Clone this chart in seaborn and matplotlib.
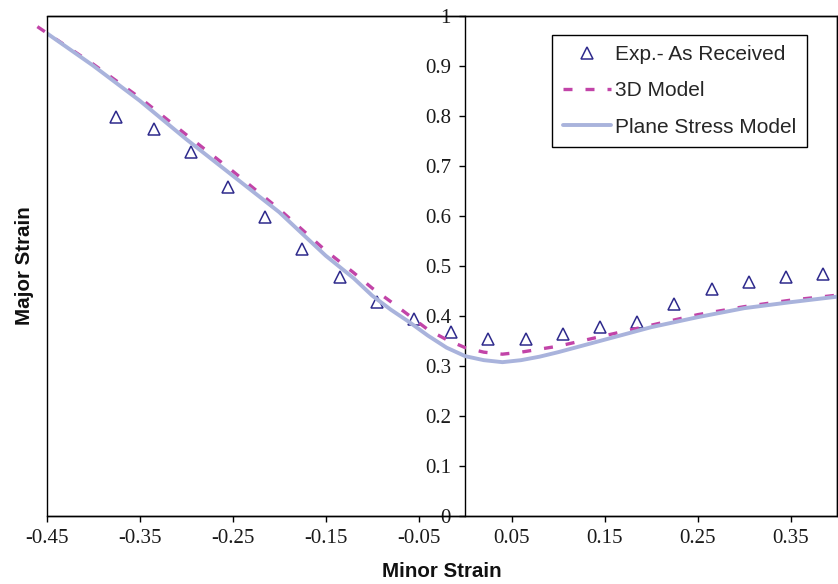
import matplotlib
matplotlib.use("Agg")
import matplotlib.pyplot as plt
from matplotlib.patches import Rectangle
import seaborn as sns
import pandas as pd

# Experimental forming-limit points (as received material)
exp_minor = [-0.375, -0.335, -0.295, -0.255, -0.215, -0.175, -0.135, -0.095, -0.055, -0.015,
             0.025, 0.065, 0.105, 0.145, 0.185, 0.225, 0.265, 0.305, 0.345, 0.385]
exp_major = [0.797, 0.773, 0.728, 0.658, 0.598, 0.533, 0.478, 0.427, 0.393, 0.367,
             0.353, 0.353, 0.363, 0.378, 0.388, 0.423, 0.454, 0.468, 0.478, 0.483]

# 3D model prediction
m3d_minor = [-0.46, -0.40, -0.35, -0.30, -0.25, -0.20, -0.15, -0.12, -0.10, -0.08, -0.06,
             -0.04, -0.02, 0.00, 0.02, 0.04, 0.06, 0.08, 0.10, 0.15, 0.20, 0.25, 0.30,
             0.35, 0.40]
m3d_major = [0.978, 0.903, 0.836, 0.762, 0.689, 0.613, 0.530, 0.486, 0.455, 0.428, 0.400,
             0.372, 0.352, 0.336, 0.327, 0.323, 0.327, 0.333, 0.339, 0.360, 0.381, 0.402,
             0.418, 0.431, 0.441]

# Plane stress model prediction
ps_minor = [-0.45, -0.40, -0.35, -0.30, -0.25, -0.20, -0.15, -0.12, -0.10, -0.08, -0.06,
            -0.04, -0.02, 0.00, 0.02, 0.04, 0.06, 0.08, 0.10, 0.15, 0.20, 0.25, 0.30,
            0.35, 0.40]
ps_major = [0.965, 0.900, 0.830, 0.753, 0.680, 0.607, 0.520, 0.475, 0.440, 0.412, 0.387,
            0.360, 0.336, 0.319, 0.311, 0.307, 0.311, 0.318, 0.327, 0.352, 0.377, 0.397,
            0.415, 0.427, 0.438]

x_ticks = [-0.45, -0.35, -0.25, -0.15, -0.05, 0.05, 0.15, 0.25, 0.35]
x_tick_labels = ["-0.45", "-0.35", "-0.25", "-0.15", "-0.05", "0.05", "0.15", "0.25", "0.35"]
y_ticks = [0, 0.1, 0.2, 0.3, 0.4, 0.5, 0.6, 0.7, 0.8, 0.9, 1.0]
y_tick_labels = ["0", "0.1", "0.2", "0.3", "0.4", "0.5", "0.6", "0.7", "0.8", "0.9", "1"]

sns.set_theme(style="white")
plt.rcParams["font.family"] = ["Liberation Sans", "DejaVu Sans"]

exp_df = pd.DataFrame({"minor": exp_minor, "major": exp_major})
m3d_df = pd.DataFrame({"minor": m3d_minor, "major": m3d_major})
ps_df = pd.DataFrame({"minor": ps_minor, "major": ps_major})

fig = plt.figure(figsize=(8.38, 5.84), dpi=100)
ax = fig.add_axes([0.0557, 0.117, 0.9434, 0.8562])

sns.lineplot(data=exp_df, x="minor", y="major", ax=ax, linestyle="", marker="^",
             markersize=8.5, markerfacecolor="none", markeredgecolor="#2E2A8C",
             markeredgewidth=1.1, label="Exp.- As Received", zorder=2)
sns.lineplot(data=m3d_df, x="minor", y="major", ax=ax, color="#C244A8",
             linewidth=2.4, linestyle=(0, (2.7, 3.9)), label="3D Model",
             clip_on=False, zorder=3)
sns.lineplot(data=ps_df, x="minor", y="major", ax=ax, color="#A9B3DC",
             linewidth=2.8, label="Plane Stress Model", zorder=4)

ax.set_xlim(-0.45, 0.40)
ax.set_ylim(0, 1)

# vertical axis drawn through zero minor strain
ax.spines["left"].set_position(("data", 0))
for side in ["left", "bottom", "top", "right"]:
    ax.spines[side].set_color("black")
    ax.spines[side].set_linewidth(1.0)
ax.add_patch(Rectangle((0, 0), 1, 1, transform=ax.transAxes, fill=False,
                       edgecolor="black", linewidth=1.0, clip_on=False, zorder=5))

ax.set_xticks(x_ticks, x_tick_labels, fontfamily="Liberation Serif", fontsize=15)
ax.set_yticks(y_ticks, y_tick_labels, fontfamily="Liberation Serif", fontsize=15)
ax.tick_params(axis="both", direction="out", length=4.3, width=1.0, color="black",
               labelcolor="#1a1a1a")
ax.tick_params(axis="x", pad=5, bottom=True)
ax.tick_params(axis="y", pad=6, left=True)

ax.set_xlabel("Minor Strain", fontsize=14.8, fontweight="bold", color="#111111")
ax.set_ylabel("Major Strain", fontsize=14.8, fontweight="bold", color="#111111")
ax.xaxis.set_label_coords(0.5, -0.092)
ax.yaxis.set_label_coords(-0.0165, 0.5, transform=ax.transAxes)

handles, labels = ax.get_legend_handles_labels()
leg = ax.legend(handles, labels, loc="upper right", bbox_to_anchor=(0.9613, 0.9614),
                borderaxespad=0, fontsize=15, frameon=True, fancybox=False,
                edgecolor="black", framealpha=1, labelspacing=0.82, handlelength=2.3,
                handletextpad=0.2, borderpad=0.5)
leg.get_frame().set_linewidth(1.0)

fig.savefig("out.png", dpi=100)
